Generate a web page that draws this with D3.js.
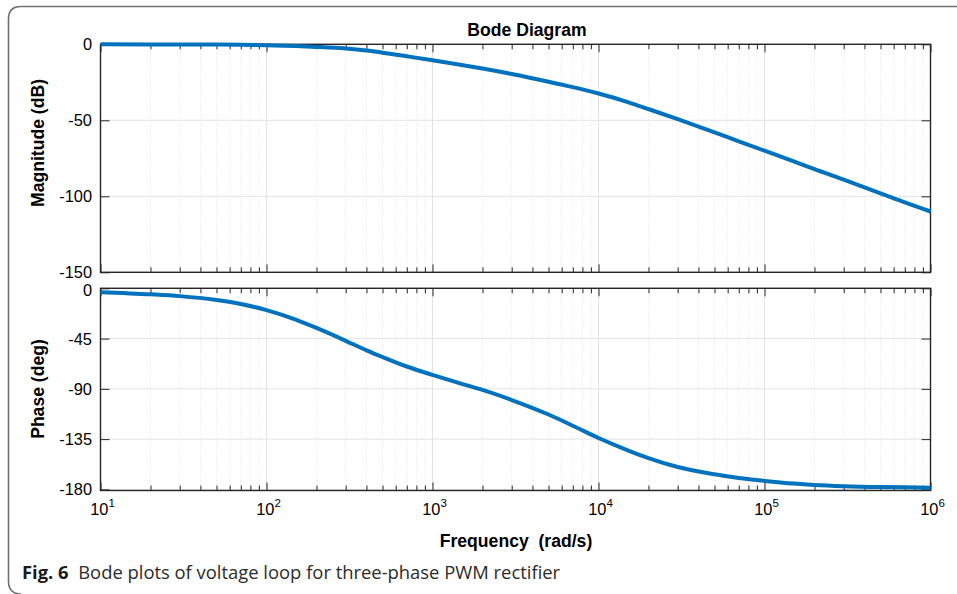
<!DOCTYPE html>
<html>
<head>
<meta charset="utf-8">
<script src="https://cdn.jsdelivr.net/npm/d3@7/dist/d3.min.js"></script>
<style>
  html, body { margin: 0; padding: 0; background: #fff; }
  svg { display: block; }
</style>
</head>
<body>
<svg id="chart" width="957" height="594"></svg>
<script>
// ---- data ----
const frequencies = [10, 20, 30, 50, 70, 100, 150, 200, 300, 400, 500, 700, 1000, 1500, 2000, 3000, 5000, 7000,
  1e4, 1.5e4, 2e4, 3e4, 5e4, 7e4, 1e5, 1.5e5, 2e5, 3e5, 5e5, 7e5, 1e6];
const magnitudeDb = [0, -0.05, -0.1, -0.2, -0.35, -0.6, -1.1, -1.7, -2.8, -4.1, -5.5, -7.9, -10.5, -13.6, -15.9, -19.5, -24.6, -28.2,
  -32.4, -38.0, -42.6, -49.2, -57.9, -63.8, -70, -77, -82.2, -89.1, -98, -104, -110];
const phaseDeg = [-3.5, -5.4, -7, -10.5, -14, -19.5, -28, -35.5, -47, -55.5, -61.5, -70, -77.5, -85.5, -91, -100, -113, -123,
  -134, -145, -152, -160, -166.5, -169.8, -172.4, -174.8, -176, -177.1, -177.9, -178.2, -178.5];
const magTicks = [0, -50, -100, -150];
const phaseTicks = [0, -45, -90, -135, -180];
const decadeTicks = [1e1, 1e2, 1e3, 1e4, 1e5, 1e6];
const decadeExponents = ["1", "2", "3", "4", "5", "6"];
const titleText = "Bode Diagram";
const magLabel = "Magnitude (dB)";
const phaseLabel = "Phase (deg)";
const xLabel = "Frequency  (rad/s)";
const captionBold = "Fig. 6";
const captionText = "Bode plots of voltage loop for three-phase PWM rectifier";

// ---- layout ----
const svg = d3.select("#chart");
const L = 100.5, R = 930.5;
const magTop = 44.3, magBot = 272.3;
const phTop = 288.3, phBot = 490.5;
const lineColor = "#0072BD";
const axisColor = "#262626";
const font = "'Liberation Sans', Arial, Helvetica, sans-serif";

const x = d3.scaleLog().domain([10, 1e6]).range([L, R]);
const yMag = d3.scaleLinear().domain([-150, 0]).range([magBot, magTop]);
const yPh = d3.scaleLinear().domain([-181, 0]).range([phBot, phTop]);

// minor ticks
const minorTicks = [];
for (let d = 10; d < 1e6; d *= 10) for (let k = 2; k <= 9; k++) minorTicks.push(d * k);

// frame
svg.append("path")
  .attr("d", "M957,6.5 H21 Q8.5,6.5 8.5,19 V581 Q8.5,594 21,594")
  .attr("fill", "none").attr("stroke", "#6f6f6f").attr("stroke-width", 1.6);

function panel(yScale, top, bot, yTicks, values, labelShift) {
  const g = svg.append("g");
  g.selectAll(".gmin").data(minorTicks).enter().append("line")
    .attr("x1", d => x(d)).attr("x2", d => x(d)).attr("y1", top).attr("y2", bot)
    .attr("stroke", "#dedede").attr("stroke-width", 0.8).attr("stroke-dasharray", "1,2");
  g.selectAll(".gmaj").data(decadeTicks).enter().append("line")
    .attr("x1", d => x(d)).attr("x2", d => x(d)).attr("y1", top).attr("y2", bot)
    .attr("stroke", "#e3e3e3").attr("stroke-width", 1);
  g.selectAll(".gh").data(yTicks).enter().append("line")
    .attr("x1", L).attr("x2", R).attr("y1", d => yScale(d)).attr("y2", d => yScale(d))
    .attr("stroke", "#e3e3e3").attr("stroke-width", 1);

  const mk = (axis, tr) => {
    const a = g.append("g").attr("transform", tr).call(axis);
    a.select(".domain").remove();
    a.selectAll("line").attr("stroke", axisColor).attr("stroke-width", 1);
    a.selectAll("text").remove();
    return a;
  };
  mk(d3.axisBottom(x).tickValues(decadeTicks).tickSize(-8).tickFormat(""), `translate(0,${bot})`);
  mk(d3.axisBottom(x).tickValues(minorTicks).tickSize(-5).tickFormat(""), `translate(0,${bot})`);
  mk(d3.axisTop(x).tickValues(decadeTicks).tickSize(-8).tickFormat(""), `translate(0,${top})`);
  mk(d3.axisTop(x).tickValues(minorTicks).tickSize(-5).tickFormat(""), `translate(0,${top})`);
  mk(d3.axisLeft(yScale).tickValues(yTicks).tickSize(-9).tickFormat(""), `translate(${L},0)`);
  mk(d3.axisRight(yScale).tickValues(yTicks).tickSize(-9).tickFormat(""), `translate(${R},0)`);

  g.selectAll(".yl").data(yTicks).enter().append("text")
    .attr("x", 92).attr("y", d => yScale(d) + 6 + (d === 0 ? labelShift : 0))
    .attr("text-anchor", "end").attr("font-family", font).attr("font-size", 16.4)
    .attr("fill", "#000").text(d => String(d));

  g.append("rect").attr("x", L).attr("y", top).attr("width", R - L).attr("height", bot - top)
    .attr("fill", "none").attr("stroke", axisColor).attr("stroke-width", 1.4);

  const line = d3.line().x((d, i) => x(frequencies[i])).y(d => yScale(d)).curve(d3.curveMonotoneX);
  g.append("path").datum(values).attr("d", line)
    .attr("fill", "none").attr("stroke", lineColor).attr("stroke-width", 4)
    .attr("stroke-linecap", "butt").attr("stroke-linejoin", "round");
}

panel(yMag, magTop, magBot, magTicks, magnitudeDb, 0);
panel(yPh, phTop, phBot, phaseTicks, phaseDeg, 2);

// x tick labels with superscript
const xl = svg.append("g");
decadeTicks.forEach((d, i) => {
  const t = xl.append("text").attr("x", x(d) + 2).attr("y", 514.5)
    .attr("text-anchor", "middle").attr("font-family", font).attr("font-size", 16.4).attr("fill", "#000");
  t.append("tspan").text("10");
  t.append("tspan").attr("dy", -7.5).attr("font-size", 11.5).text(decadeExponents[i]);
});

svg.append("text").attr("x", 527).attr("y", 35.5).attr("text-anchor", "middle")
  .attr("font-family", font).attr("font-weight", "bold").attr("font-size", 17.6).attr("fill", "#000")
  .text(titleText);

svg.append("text").attr("x", 516).attr("y", 547).attr("text-anchor", "middle")
  .attr("font-family", font).attr("font-weight", "bold").attr("font-size", 17.6).attr("fill", "#000")
  .style("white-space", "pre")
  .text(xLabel);

svg.append("text").attr("transform", `translate(44,143) rotate(-90)`).attr("text-anchor", "middle")
  .attr("font-family", font).attr("font-weight", "bold").attr("font-size", 17.6).attr("fill", "#000")
  .text(magLabel);
svg.append("text").attr("transform", `translate(44,389) rotate(-90)`).attr("text-anchor", "middle")
  .attr("font-family", font).attr("font-weight", "bold").attr("font-size", 17.6).attr("fill", "#000")
  .text(phaseLabel);

const cap = svg.append("text").attr("x", 22).attr("y", 578.5)
  .attr("font-family", "'Open Sans', 'Noto Sans', sans-serif").attr("font-size", 18.4).attr("fill", "#2b2b2b")
  .style("white-space", "pre");
cap.append("tspan").attr("font-weight", "bold").attr("fill", "#1a1a1a").text(captionBold);
cap.append("tspan").text("  " + captionText);
</script>
</body>
</html>
